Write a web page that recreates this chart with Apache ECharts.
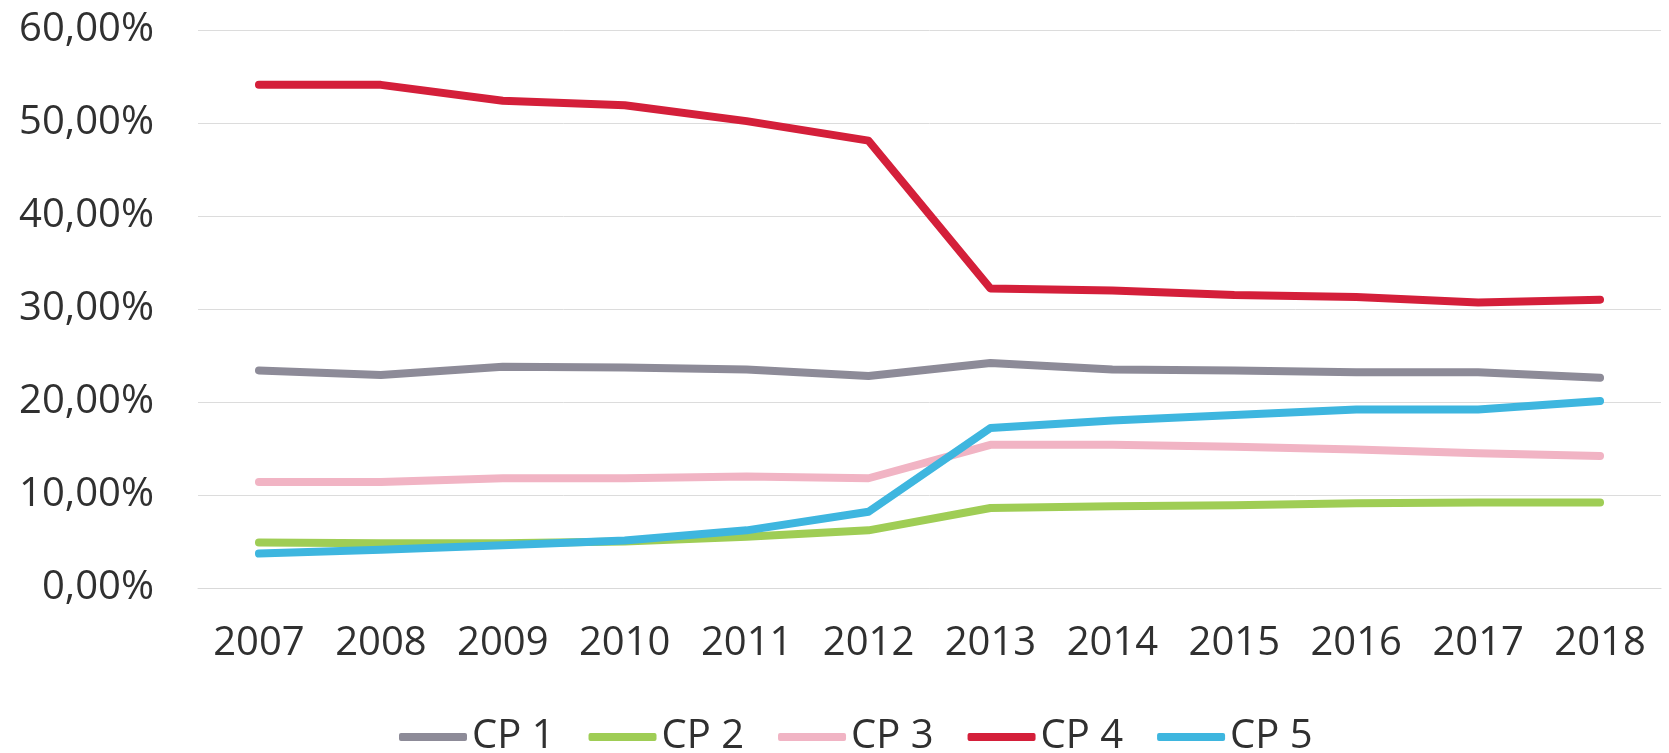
<!DOCTYPE html>
<html>
<head>
<meta charset="utf-8">
<script src="https://cdn.jsdelivr.net/npm/echarts@6/dist/echarts.min.js"></script>
<style>
    html, body { margin: 0; padding: 0; background: #fff; }
    #cpChart { width: 1669px; height: 753px; }
</style>
</head>
<body>
<div id="cpChart"></div>
<script>
    // anni
    const years = ['2007', '2008', '2009', '2010', '2011', '2012', '2013', '2014', '2015', '2016', '2017', '2018']
    // etichette asse y
    const yTicks = ['0,00%', '10,00%', '20,00%', '30,00%', '40,00%', '50,00%', '60,00%']
    const seriesNames = ['CP 1', 'CP 2', 'CP 3', 'CP 4', 'CP 5']
    // valori in percentuale
    const cp1 = [23.4, 22.9, 23.8, 23.7, 23.5, 22.8, 24.2, 23.5, 23.4, 23.2, 23.2, 22.6]
    const cp2 = [4.9, 4.8, 4.8, 5.0, 5.5, 6.2, 8.6, 8.8, 8.9, 9.1, 9.2, 9.2]
    const cp3 = [11.4, 11.4, 11.8, 11.8, 12.0, 11.8, 15.4, 15.4, 15.2, 14.9, 14.5, 14.2]
    const cp4 = [54.1, 54.1, 52.4, 51.9, 50.2, 48.1, 32.2, 32.0, 31.5, 31.3, 30.7, 31.0]
    const cp5 = [3.7, 4.1, 4.6, 5.1, 6.2, 8.2, 17.2, 18.0, 18.6, 19.2, 19.2, 20.1]

    const colors = ['#8d8b98', '#9fcd55', '#f1b4c4', '#d41f3a', '#3eb6df']
    const textColor = '#303030'
    const font = '"Open Sans", "Noto Sans", sans-serif'

    const chart = echarts.init(document.getElementById('cpChart'))

    const makeLine = (name, data) => ({
        name: name,
        type: 'line',
        data: data,
        symbol: 'none',
        lineStyle: {
            width: 8,
            cap: 'round',
            join: 'round'
        }
    })

    chart.setOption({
        animation: false,
        color: colors,
        textStyle: { fontFamily: font },
        grid: {
            left: 198,
            right: 8,
            top: 30,
            bottom: 165
        },
        legend: {
            data: seriesNames,
            icon: 'roundRect',
            itemWidth: 68,
            itemHeight: 8,
            itemGap: 34,
            left: 394,
            top: 712,
            textStyle: {
                fontSize: 40,
                color: textColor,
                fontFamily: font
            }
        },
        xAxis: {
            type: 'category',
            data: years,
            boundaryGap: true,
            axisLine: { lineStyle: { color: '#d9d9d9', width: 1 } },
            axisTick: { show: false },
            axisLabel: {
                fontSize: 40,
                color: textColor,
                margin: 36,
                fontFamily: font
            }
        },
        yAxis: {
            type: 'value',
            min: 0,
            max: 60,
            interval: 10,
            axisLine: { show: false },
            axisTick: { show: false },
            splitLine: { lineStyle: { color: '#dcdcdc', width: 1 } },
            axisLabel: {
                fontSize: 40,
                color: textColor,
                margin: 44,
                fontFamily: font,
                formatter: (v) => yTicks[Math.round(v / 10)]
            }
        },
        series: [
            makeLine(seriesNames[0], cp1),
            makeLine(seriesNames[1], cp2),
            makeLine(seriesNames[2], cp3),
            makeLine(seriesNames[3], cp4),
            makeLine(seriesNames[4], cp5)
        ]
    })
</script>
</body>
</html>
